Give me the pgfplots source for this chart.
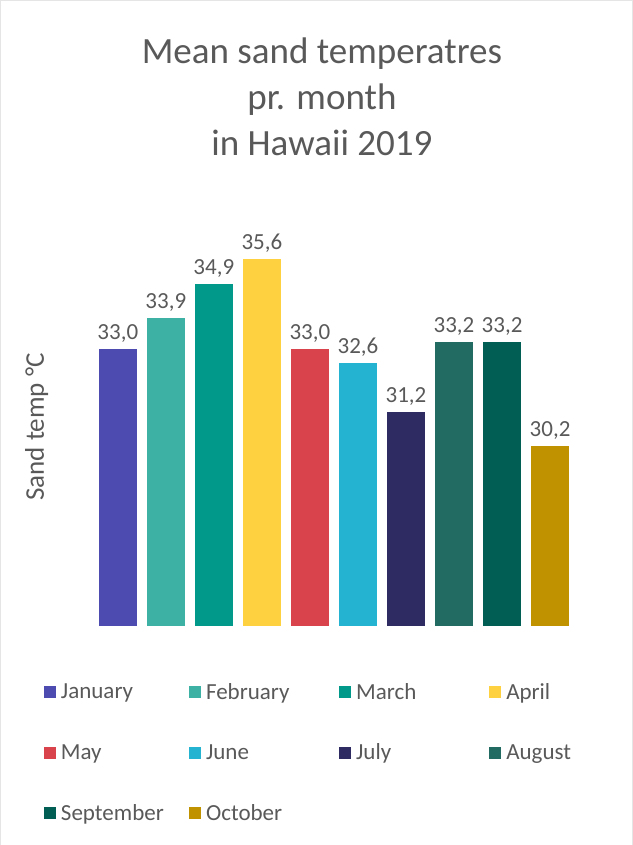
\documentclass[border=0pt]{standalone}
\usepackage{pgfplots}
\pgfplotsset{compat=1.18}
\usepackage{fontspec}
\setmainfont{Carlito}
\definecolor{txt}{HTML}{595959}
\definecolor{c1}{HTML}{4E4BB0}
\definecolor{c2}{HTML}{3EB1A5}
\definecolor{c3}{HTML}{00998A}
\definecolor{c4}{HTML}{FDD13F}
\definecolor{c5}{HTML}{D9434B}
\definecolor{c6}{HTML}{25B3D2}
\definecolor{c7}{HTML}{2E2B63}
\definecolor{c8}{HTML}{216B62}
\definecolor{c9}{HTML}{005E55}
\definecolor{c10}{HTML}{C09200}
\begin{document}
\begin{tikzpicture}[x=1pt,y=1pt]
\path[draw=gray!20] (0.5,0.5) rectangle (632.5,844.5);
\node[text=txt,align=center,font=\fontsize{37}{46}\selectfont] at (322,748) {Mean sand temperatres\\pr. month\\in Hawaii 2019};
\node[text=txt,rotate=90,font=\fontsize{27}{30}\selectfont] at (37,418) {Sand temp °C};
\begin{axis}[at={(94pt,219pt)},anchor=south west,scale only axis,width=480pt,height=415pt,
 xmin=-0.5,xmax=9.5,ymin=25,ymax=37,axis lines=none,
 ybar,bar width=38pt,bar shift=0pt,
 nodes near coords,
 nodes near coords style={text=txt,font=\fontsize{23}{25}\selectfont,yshift=3pt,/pgf/number format/assume math mode=true,/pgf/number format/fixed,/pgf/number format/fixed zerofill,/pgf/number format/precision=1,/pgf/number format/use comma},
 legend columns=4,
 legend style={at={(-53pt,-53pt)},anchor=north west,draw=none,fill=none,font=\fontsize{23}{25}\selectfont,text=txt,
  /tikz/every even column/.append style={column sep=0pt},row sep=39pt},
 legend image code/.code={\fill[#1] (0pt,-6pt) rectangle (12pt,6pt);},
 legend cell align=left]
\addplot[fill=c1,draw=none] coordinates {(0,33.0)}; \addlegendentry{\makebox[129pt][l]{\hspace*{3pt}January}}
\addplot[fill=c2,draw=none] coordinates {(1,33.9)}; \addlegendentry{\makebox[134pt][l]{\hspace*{3pt}February}}
\addplot[fill=c3,draw=none] coordinates {(2,34.9)}; \addlegendentry{\makebox[134pt][l]{\hspace*{3pt}March}}
\addplot[fill=c4,draw=none] coordinates {(3,35.6)}; \addlegendentry{\makebox[80pt][l]{\hspace*{3pt}April}}
\addplot[fill=c5,draw=none] coordinates {(4,33.0)}; \addlegendentry{\hspace*{3pt}May}
\addplot[fill=c6,draw=none] coordinates {(5,32.6)}; \addlegendentry{\hspace*{3pt}June}
\addplot[fill=c7,draw=none] coordinates {(6,31.2)}; \addlegendentry{\hspace*{3pt}July}
\addplot[fill=c8,draw=none] coordinates {(7,33.2)}; \addlegendentry{\hspace*{3pt}August}
\addplot[fill=c9,draw=none] coordinates {(8,33.2)}; \addlegendentry{\hspace*{3pt}September}
\addplot[fill=c10,draw=none] coordinates {(9,30.2)}; \addlegendentry{\hspace*{3pt}October}
\end{axis}
\end{tikzpicture}
\end{document}
